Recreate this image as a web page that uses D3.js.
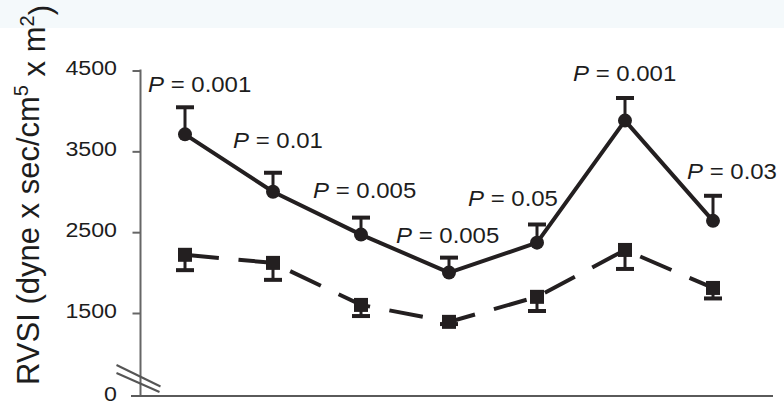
<!DOCTYPE html>
<html>
<head>
<meta charset="utf-8">
<script src="https://cdn.jsdelivr.net/npm/d3@7"></script>
<style>
  html, body { margin: 0; padding: 0; background: #fff; }
  svg { display: block; }
  text { font-family: "Liberation Sans", Arial, sans-serif; fill: #1d1d1d; }
</style>
</head>
<body>
<script>
// ---------- data ----------
const categories = ["1", "2", "3", "4", "5", "6", "7"];
const seriesSolid = [3710, 3000, 2470, 2000, 2370, 3880, 2640];   // circles
const seriesSolidErr = [335, 235, 210, 185, 225, 280, 310];
const seriesDashed = [2220, 2120, 1600, 1340, 1700, 2280, 1810];  // squares
const seriesDashedErr = [190, 210, 155, 40, 175, 235, 130];
const pValues = ["0.001", "0.01", "0.005", "0.005", "0.05", "0.001", "0.03"];
const yTicks = [0, 1500, 2500, 3500, 4500];
const yLabel = ["RVSI (dyne x sec/cm", "5", " x m", "2", ")"];

// ---------- layout ----------
const W = 784, H = 404;
const labelOffsets = [[-37, -15], [-40, -25], [-48, -20], [-53, -15], [-69, -18], [-52, -17], [-26, -17]];
const ink = "#231f20", axisCol = "#666";

const svg = d3.select("body").append("svg").attr("width", W).attr("height", H);
svg.append("rect").attr("x", 0).attr("y", 0).attr("width", W).attr("height", 28).attr("fill", "#f4f9fb");

const x = d3.scalePoint().domain(categories).range([185, 713]);
// broken axis: 0 sits just below the break, 1500..4500 linear
const y = d3.scaleLinear().domain([0, 1500, 4500]).range([396, 313, 70.5]);

const axisX = 140.5;

// y axis
const yAxis = d3.axisLeft(y).tickValues(yTicks.filter(d => d > 0)).tickSize(8).tickSizeOuter(0).tickFormat("");
const gy = svg.append("g").attr("transform", `translate(${axisX},0)`).call(yAxis);
gy.select(".domain").remove();
gy.selectAll(".tick line").attr("stroke", axisCol).attr("stroke-width", 2);
svg.append("line").attr("x1", axisX).attr("x2", axisX).attr("y1", y(4500) - 1).attr("y2", y(0))
  .attr("stroke", axisCol).attr("stroke-width", 2);
// x axis baseline
svg.append("line").attr("x1", 131).attr("x2", 773).attr("y1", y(0)).attr("y2", y(0))
  .attr("stroke", "#5a5a5a").attr("stroke-width", 2);

// tick labels
svg.selectAll(".ytl").data(yTicks).enter().append("text")
  .attr("class", "ytl")
  .attr("transform", d => `translate(117,${y(d) - 2}) scale(1.19,1)`)
  .attr("text-anchor", "end").attr("dy", "0.35em")
  .style("font-size", "19.5px")
  .text(d => d);

// axis break marks
const bx = axisX, by = y(0);
[[-24, -31, 20, -9.5], [-24, -23, 19, -4]].forEach(([x1, y1, x2, y2]) => {
  svg.append("line").attr("x1", bx + x1).attr("y1", by + y1).attr("x2", bx + x2).attr("y2", by + y2)
    .attr("stroke", "#555").attr("stroke-width", 2);
});

// y axis title
const yt = svg.append("text")
  .attr("transform", "translate(38.5,385) rotate(-90)")
  .style("font-size", "31px");
yt.append("tspan").text(yLabel[0]);
yt.append("tspan").attr("dy", "-0.55em").style("font-size", "20px").text(yLabel[1]);
yt.append("tspan").attr("dy", "0.55em").text(yLabel[2]);
yt.append("tspan").attr("dy", "-0.55em").style("font-size", "20px").text(yLabel[3]);
yt.append("tspan").attr("dy", "0.55em").text(yLabel[4]);

const solid = categories.map((c, i) => ({ c, v: seriesSolid[i], e: seriesSolidErr[i] }));
const dashed = categories.map((c, i) => ({ c, v: seriesDashed[i], e: seriesDashedErr[i] }));

const line = d3.line().x(d => x(d.c)).y(d => y(d.v));

// dashed series
svg.append("path").datum(dashed).attr("d", line)
  .attr("fill", "none").attr("stroke", ink).attr("stroke-width", 4)
  .attr("stroke-dasharray", "34,19.7");
// solid series
svg.append("path").datum(solid).attr("d", line)
  .attr("fill", "none").attr("stroke", ink).attr("stroke-width", 4)
  .attr("stroke-linejoin", "round");

// error bars (solid: upward)
const capW = 18;
solid.forEach(d => {
  svg.append("line").attr("x1", x(d.c)).attr("x2", x(d.c)).attr("y1", y(d.v)).attr("y2", y(d.v + d.e))
    .attr("stroke", ink).attr("stroke-width", 3);
  svg.append("line").attr("x1", x(d.c) - capW / 2).attr("x2", x(d.c) + capW / 2)
    .attr("y1", y(d.v + d.e)).attr("y2", y(d.v + d.e)).attr("stroke", ink).attr("stroke-width", 4);
});
// error bars (dashed: downward)
dashed.forEach(d => {
  svg.append("line").attr("x1", x(d.c)).attr("x2", x(d.c)).attr("y1", y(d.v)).attr("y2", y(d.v - d.e))
    .attr("stroke", ink).attr("stroke-width", 3);
  svg.append("line").attr("x1", x(d.c) - capW / 2).attr("x2", x(d.c) + capW / 2)
    .attr("y1", y(d.v - d.e)).attr("y2", y(d.v - d.e)).attr("stroke", ink).attr("stroke-width", 4);
});

// markers
svg.selectAll(".dot").data(solid).enter().append("circle")
  .attr("cx", d => x(d.c)).attr("cy", d => y(d.v)).attr("r", 7).attr("fill", ink);
const sq = 14;
svg.selectAll(".sq").data(dashed).enter().append("rect")
  .attr("x", d => x(d.c) - sq / 2).attr("y", d => y(d.v) - sq / 2)
  .attr("width", sq).attr("height", sq).attr("fill", ink);

// P labels
solid.forEach((d, i) => {
  const [dx, dy] = labelOffsets[i];
  const t = svg.append("text")
    .attr("transform", `translate(${x(d.c) + dx},${y(d.v + d.e) + dy}) scale(1.09,1)`)
    .style("font-size", "22px");
  t.append("tspan").style("font-style", "italic").text("P");
  t.append("tspan").text(" = " + pValues[i]);
});
</script>
</body>
</html>
